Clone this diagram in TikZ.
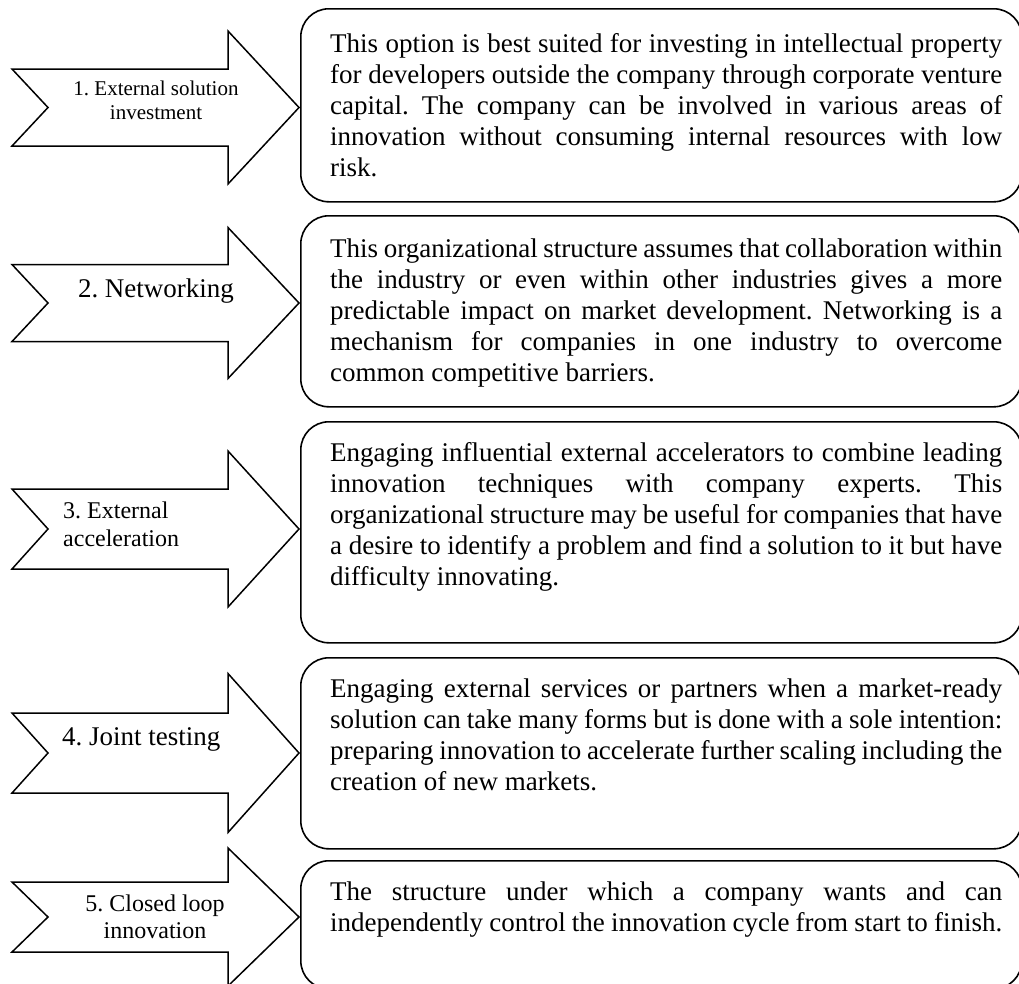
\documentclass[tikz,border=0pt]{standalone}
\usepackage{fontspec}
\setmainfont{Liberation Serif}
\frenchspacing
\newlength{\boxtw}
\setlength{\boxtw}{672pt}
\newcommand{\jline}[1]{\makebox[\boxtw][s]{#1}\\}
\newcommand{\chev}[4]{% name, centre y, shaft half height, head half height
  \draw[chevshape] (12,#2-#3) -- (228,#2-#3) -- (228,#2-#4) -- (299,#2)
    -- (228,#2+#4) -- (228,#2+#3) -- (12,#2+#3) -- (48,#2) -- cycle;
  \coordinate (#1) at (299,#2);}
\tikzset{
  chevshape/.style={draw=black, line width=1.5pt, line join=miter, fill=white},
  textbox/.style={draw=black, line width=1.6pt, rounded corners=28pt, rectangle,
    anchor=north west, inner sep=0pt, minimum width=721pt},
  bodytext/.style={anchor=base west, inner sep=0pt},
  labeltext/.style={inner sep=0pt}
}
\begin{document}
\begin{tikzpicture}[x=1pt,y=-1pt]
\useasboundingbox (0,0) rectangle (1019,983);
\clip (0,0) rectangle (1019,983);
% arrows
\chev{p1}{107.5}{38.5}{76.5}
\chev{p2}{303}{38.5}{75.5}
\chev{p3}{529}{40}{78}
\chev{p4}{753}{40}{79.5}
\chev{p5}{917}{35}{69}
% arrow labels
\node[labeltext, anchor=base] (a1) at (156,95)
  {\parbox[t]{220pt}{\centering\fontsize{21}{24}\selectfont 1. External solution\\investment}};
\node[labeltext, anchor=base] (a2) at (156,297)
  {\parbox[t]{220pt}{\centering\fontsize{27}{31}\selectfont 2. Networking}};
\node[labeltext, anchor=base west] (a3) at (63,518)
  {\parbox[t]{160pt}{\raggedright\fontsize{24}{28}\selectfont 3. External\\acceleration}};
\node[labeltext, anchor=base west] (a4) at (62,745)
  {\parbox[t]{200pt}{\raggedright\fontsize{27}{31}\selectfont 4. Joint testing}};
\node[labeltext, anchor=base] (a5) at (155,911)
  {\parbox[t]{220pt}{\centering\fontsize{24}{27}\selectfont 5. Closed loop\\innovation}};
% boxes
\node[textbox, minimum height=193pt] (b1) at (300,8) {};
\node[textbox, minimum height=191pt] (b2) at (300,215) {};
\node[textbox, minimum height=221pt] (b3) at (300,421) {};
\node[textbox, minimum height=191pt] (b4) at (300,657) {};
\node[textbox, minimum height=128pt] (b5) at (300,860) {};
% box texts
\node[bodytext] (t1) at (330,52) {\parbox[t]{\boxtw}{\fontsize{27}{31}\selectfont
  \jline{This option is best suited for investing in intellectual property}
  \jline{for developers outside the company through corporate venture}
  \jline{capital. The company can be involved in various areas of}
  \jline{innovation without consuming internal resources with low}
  risk.}};
\node[bodytext] (t2) at (330,257) {\parbox[t]{\boxtw}{\fontsize{27}{31}\selectfont
  \jline{This organizational structure assumes that collaboration within}
  \jline{the industry or even within other industries gives a more}
  \jline{predictable impact on market development. Networking is a}
  \jline{mechanism for companies in one industry to overcome}
  common competitive barriers.}};
\node[bodytext] (t3) at (330,461) {\parbox[t]{\boxtw}{\fontsize{27}{31}\selectfont
  \jline{Engaging influential external accelerators to combine leading}
  \jline{innovation techniques with company experts. This}
  \jline{organizational structure may be useful for companies that have}
  \jline{a desire to identify a problem and find a solution to it but have}
  difficulty innovating.}};
\node[bodytext] (t4) at (330,697) {\parbox[t]{\boxtw}{\fontsize{27}{31}\selectfont
  \jline{Engaging external services or partners when a market-ready}
  \jline{solution can take many forms but is done with a sole intention:}
  \jline{preparing innovation to accelerate further scaling including the}
  creation of new markets.}};
\node[bodytext] (t5) at (330,900) {\parbox[t]{\boxtw}{\fontsize{27}{31}\selectfont
  \jline{The structure under which a company wants and can}
  independently control the innovation cycle from start to finish.}};
\end{tikzpicture}
\end{document}
